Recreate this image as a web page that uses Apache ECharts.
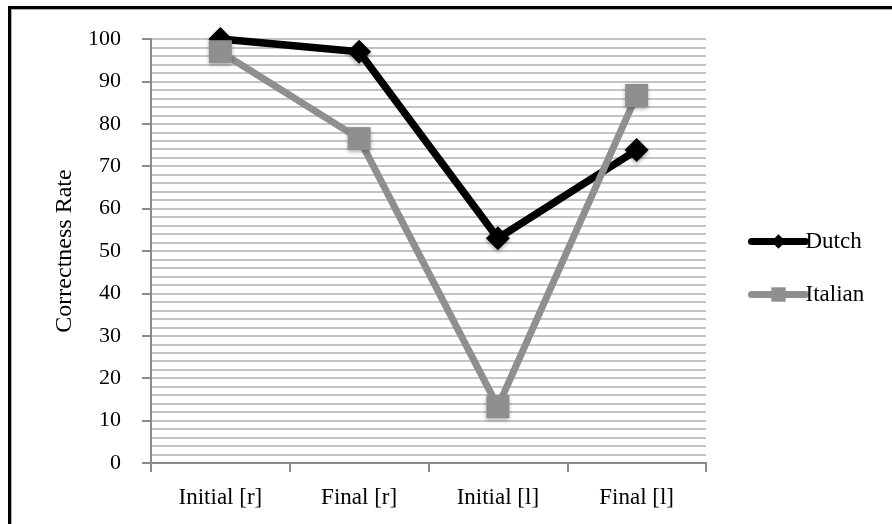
<!DOCTYPE html>
<html>
<head>
<meta charset="utf-8">
<script src="https://cdn.jsdelivr.net/npm/echarts@6/dist/echarts.min.js"></script>
<style>
  html, body { margin: 0; padding: 0; background: #fff; }
  #chart { width: 892px; height: 524px; }
</style>
</head>
<body>
<div id="chart"></div>
<script>
// Categories along the x axis
const categories = ['Initial [r]', 'Final [r]', 'Initial [l]', 'Final [l]'];
// Correctness rate (%) per group
const dutch = [100, 97, 53, 73.8];
const italian = [97, 76.5, 13.3, 86.7];
const seriesNames = ['Dutch', 'Italian'];

const serif = 'Liberation Serif, Times New Roman, serif';
const axisGray = '#8a8a8a';
const gridGray = '#c4c4c4';

const chart = echarts.init(document.getElementById('chart'), null, { renderer: 'canvas' });

chart.setOption({
  animation: false,
  backgroundColor: '#fff',
  grid: { left: 151, right: 186, top: 39, bottom: 61 },
  legend: {
    orient: 'vertical',
    left: 743,
    top: 225,
    itemWidth: 54,
    itemHeight: 18,
    itemGap: 30,
    lineStyle: { width: 7, cap: 'round' },
    textStyle: { fontFamily: serif, fontSize: 23, color: '#000', padding: [0, 0, 0, -5] },
    data: seriesNames
  },
  xAxis: {
    type: 'category',
    data: categories,
    boundaryGap: true,
    axisLine: { show: true, lineStyle: { color: axisGray, width: 2 } },
    axisTick: { show: true, length: 9, lineStyle: { color: axisGray, width: 2 } },
    axisLabel: { fontFamily: serif, fontSize: 23, color: '#000', margin: 23 },
    splitLine: { show: false }
  },
  yAxis: {
    type: 'value',
    min: 0,
    max: 100,
    interval: 10,
    name: 'Correctness Rate',
    nameLocation: 'middle',
    nameGap: 73,
    nameRotate: 90,
    nameTextStyle: { fontFamily: serif, fontSize: 24, color: '#000' },
    axisLine: { show: true, lineStyle: { color: axisGray, width: 2 } },
    axisTick: { show: true, length: 9, lineStyle: { color: axisGray, width: 2 } },
    axisLabel: { fontFamily: serif, fontSize: 22, color: '#000', margin: 30 },
    splitLine: { show: true, lineStyle: { color: gridGray, width: 2 } },
    minorTick: { show: false, splitNumber: 5 },
    minorSplitLine: { show: true, lineStyle: { color: gridGray, width: 2 } }
  },
  series: [
    {
      name: seriesNames[0],
      type: 'line',
      data: dutch,
      z: 2,
      symbol: 'diamond',
      symbolSize: 24,
      showAllSymbol: true,
      lineStyle: { color: '#000', width: 7.5 },
      itemStyle: {
        color: '#000', borderColor: '#000', borderWidth: 0,
        shadowColor: 'rgba(0,0,0,0.35)', shadowBlur: 4, shadowOffsetY: 2
      }
    },
    {
      name: seriesNames[1],
      type: 'line',
      data: italian,
      z: 3,
      symbol: 'rect',
      symbolSize: 23,
      showAllSymbol: true,
      lineStyle: { color: '#8f8f8f', width: 7 },
      itemStyle: {
        color: '#8f8f8f', borderColor: '#8f8f8f', borderWidth: 0,
        shadowColor: 'rgba(0,0,0,0.3)', shadowBlur: 4, shadowOffsetY: 2
      }
    }
  ],
  graphic: [
    // frame along the top and left edges
    { type: 'rect', shape: { x: 8, y: 6, width: 884, height: 3 }, style: { fill: '#000' }, silent: true },
    { type: 'rect', shape: { x: 8, y: 6, width: 3, height: 518 }, style: { fill: '#000' }, silent: true },
    { type: 'rect', shape: { x: 11, y: 9, width: 881, height: 1 }, style: { fill: '#b0b0b0' }, silent: true },
    { type: 'rect', shape: { x: 11, y: 9, width: 1, height: 515 }, style: { fill: '#b0b0b0' }, silent: true }
  ]
});
</script>
</body>
</html>
